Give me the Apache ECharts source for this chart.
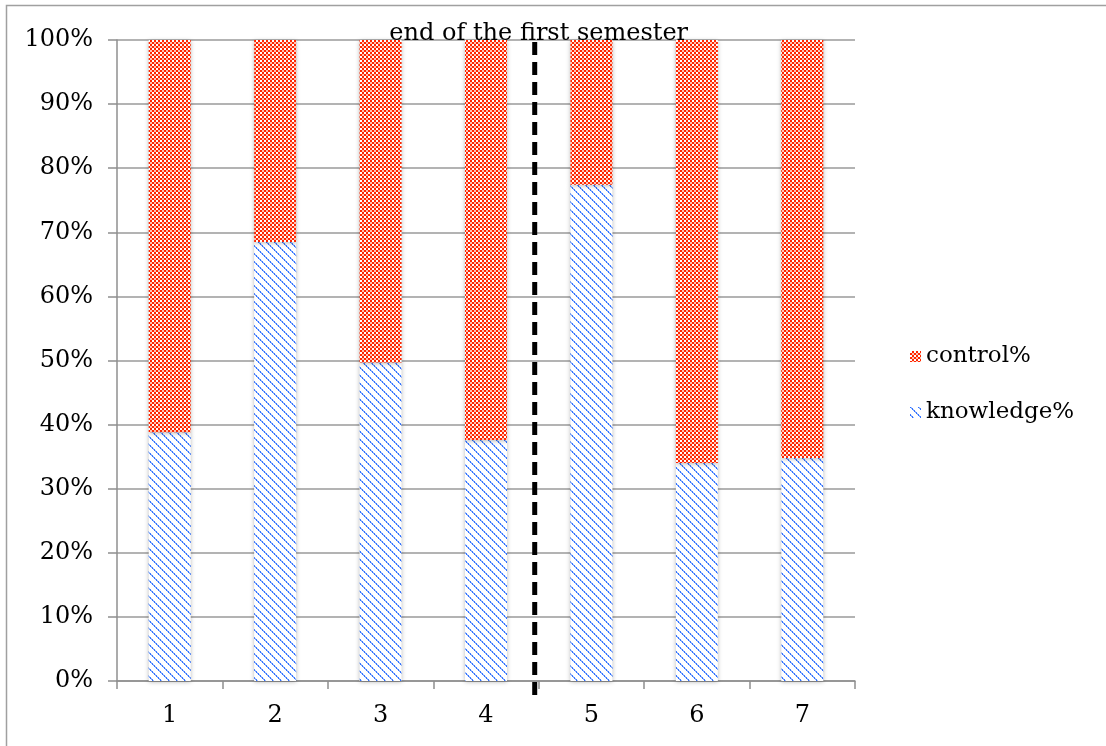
<!DOCTYPE html>
<html>
<head>
<meta charset="utf-8">
<style>
  html, body { margin: 0; padding: 0; background: #fff; }
  #chart { width: 1106px; height: 746px; }
</style>
<script src="https://cdn.jsdelivr.net/npm/echarts@6/dist/echarts.min.js"></script>
</head>
<body>
<div id="chart"></div>
<script>
// Share of knowledge vs. control per session (stacked to 100%)
const categories = ['1', '2', '3', '4', '5', '6', '7'];
const knowledgePct = [38.8, 68.5, 49.7, 37.6, 77.4, 34.0, 34.8];
const controlPct   = [61.2, 31.5, 50.3, 62.4, 22.6, 66.0, 65.2];
const yTicks = [0, 10, 20, 30, 40, 50, 60, 70, 80, 90, 100];
const semesterBreakLabel = 'end of the first semester';
const semesterBreakAfter = 3; // divider drawn after this category index (session 4)

const FONT = 'DejaVu Serif';

// Red checkerboard fill
function checkerPattern() {
  const c = document.createElement('canvas');
  c.width = 4; c.height = 4;
  const g = c.getContext('2d');
  g.fillStyle = '#ff2600';
  g.fillRect(0, 0, 4, 4);
  g.fillStyle = '#ffffff';
  g.fillRect(0, 0, 2, 2);
  g.fillStyle = '#ffc2b2';
  g.fillRect(2, 2, 2, 2);
  return c;
}

// Blue dotted diagonal hatch
function hatchPattern() {
  const n = 8;
  const c = document.createElement('canvas');
  c.width = n; c.height = n;
  const g = c.getContext('2d');
  g.fillStyle = '#ffffff';
  g.fillRect(0, 0, n, n);
  for (let i = 0; i < n; i++) {
    g.fillStyle = (i % 2 === 0) ? '#2f6fff' : '#7aa5ff';
    g.fillRect(i, i, 1, 1);
    g.fillStyle = (i % 2 === 0) ? '#9fbfff' : '#3f7cff';
    g.fillRect((i + 1) % n, i, 1, 1);
  }
  return c;
}

const chart = echarts.init(document.getElementById('chart'));

const redFill = { image: checkerPattern(), repeat: 'repeat' };
const blueFill = { image: hatchPattern(), repeat: 'repeat' };

const barShadow = {
  shadowBlur: 4,
  shadowColor: 'rgba(0,0,0,0.28)',
  shadowOffsetX: 0,
  shadowOffsetY: 1
};

const option = {
  backgroundColor: '#ffffff',
  animation: false,
  grid: { left: 117, right: 251, top: 40, bottom: 65, containLabel: false },
  legend: {
    data: ['control%', 'knowledge%'],
    orient: 'vertical',
    left: 905,
    top: 340,
    itemWidth: 11,
    itemHeight: 11,
    itemGap: 33,
    icon: 'rect',
    textStyle: { fontFamily: FONT, fontSize: 23, color: '#000', lineHeight: 23, padding: [0, 0, 0, 0] }
  },
  xAxis: {
    type: 'category',
    data: categories,
    boundaryGap: true,
    axisLine: { lineStyle: { color: '#8f8f8f', width: 1.5 } },
    axisTick: { show: true, alignWithLabel: false, length: 8, lineStyle: { color: '#8f8f8f', width: 1.5 } },
    axisLabel: { fontFamily: FONT, fontSize: 24, color: '#000', margin: 23 },
    splitLine: { show: false }
  },
  yAxis: {
    type: 'value',
    min: yTicks[0],
    max: yTicks[yTicks.length - 1],
    interval: yTicks[1] - yTicks[0],
    axisLine: { show: true, lineStyle: { color: '#8f8f8f', width: 1.5 } },
    axisTick: { show: true, length: 9, lineStyle: { color: '#8f8f8f', width: 1.5 } },
    axisLabel: { fontFamily: FONT, fontSize: 24, color: '#000', margin: 24, formatter: '{value}%' },
    splitLine: { show: true, lineStyle: { color: '#9a9a9a', width: 1.6 } }
  },
  series: [
    {
      name: 'knowledge%',
      type: 'bar',
      stack: 'total',
      barWidth: 42,
      data: knowledgePct,
      itemStyle: Object.assign({ color: blueFill }, barShadow)
    },
    {
      name: 'control%',
      type: 'bar',
      stack: 'total',
      barWidth: 42,
      data: controlPct,
      itemStyle: Object.assign({ color: redFill }, barShadow)
    }
  ]
};

chart.setOption(option);

// Outer frame, dashed semester divider and its caption
function drawOverlays() {
  const xA = chart.convertToPixel({ xAxisIndex: 0 }, semesterBreakAfter);
  const xB = chart.convertToPixel({ xAxisIndex: 0 }, semesterBreakAfter + 1);
  const xMid = (xA + xB) / 2;
  const xBreak = xMid - 4;
  const yTop = chart.convertToPixel({ yAxisIndex: 0 }, yTicks[yTicks.length - 1]);
  const yBottom = chart.convertToPixel({ yAxisIndex: 0 }, yTicks[0]);
  chart.setOption({
    graphic: [
      {
        type: 'rect',
        silent: true,
        shape: { x: 6.5, y: 5.5, width: 1200, height: 900 },
        style: { fill: null, stroke: '#a0a0a0', lineWidth: 1.5 }
      },
      {
        type: 'line',
        silent: true,
        z: 50,
        shape: { x1: xBreak, y1: yTop + 2, x2: xBreak, y2: yBottom + 20 },
        style: { stroke: '#000', lineWidth: 5, lineDash: [13, 7] }
      },
      {
        type: 'text',
        silent: true,
        z: 60,
        x: xMid,
        y: yTop - 6,
        style: {
          text: semesterBreakLabel,
          fontFamily: FONT,
          fontSize: 24,
          fill: '#000',
          align: 'center',
          verticalAlign: 'middle'
        }
      }
    ]
  });
}
drawOverlays();
</script>
</body>
</html>
